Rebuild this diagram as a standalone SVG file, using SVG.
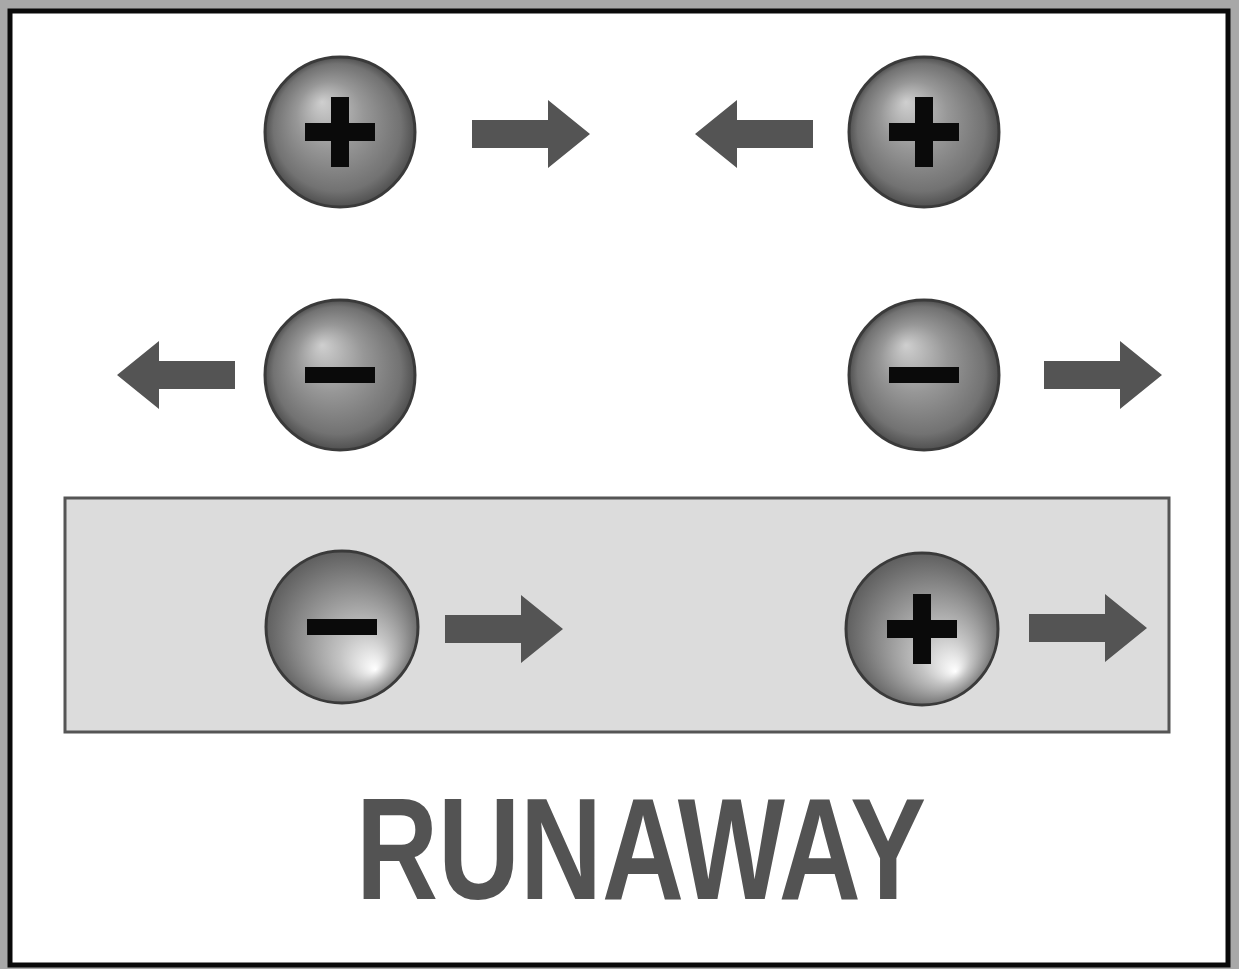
<svg xmlns="http://www.w3.org/2000/svg" width="1239" height="969" viewBox="0 0 1239 969">
<defs>
<radialGradient id="gTop" cx="0.5" cy="0.5" r="0.5" fx="0.38" fy="0.3">
<stop offset="0" stop-color="#cfcfcf"/>
<stop offset="0.45" stop-color="#979797"/>
<stop offset="0.85" stop-color="#727272"/>
<stop offset="1" stop-color="#505050"/>
</radialGradient>
<radialGradient id="gBot" cx="0.5" cy="0.5" r="0.55" fx="0.72" fy="0.78">
<stop offset="0" stop-color="#ffffff"/>
<stop offset="0.3" stop-color="#c4c4c4"/>
<stop offset="0.7" stop-color="#858585"/>
<stop offset="1" stop-color="#555555"/>
</radialGradient>
<path id="arrowR" d="M-118,-14 H-42 V-34 L0,0 L-42,34 V14 H-118 Z"/>
</defs>
<style>
.sphT{fill:url(#gTop);stroke:#3a3a3a;stroke-width:3}
.sphB{fill:url(#gBot);stroke:#3a3a3a;stroke-width:3}
.sign{fill:#0a0a0a}
.arr{fill:#545454}
</style>
<rect x="0" y="0" width="1239" height="969" fill="#a8a8a8"/>
<rect x="10" y="11" width="1218" height="954" fill="#ffffff" stroke="#0a0a0a" stroke-width="5"/>
<g id="panel">
<rect x="65" y="498" width="1104" height="234" fill="#dcdcdc" stroke="#555555" stroke-width="3"/>
</g>
<g id="p1">
<circle class="sphT" cx="340" cy="132" r="75"/>
<rect class="sign" x="305" y="123" width="70" height="18"/>
<rect class="sign" x="331" y="97" width="18" height="70"/>
</g>
<g id="p2">
<circle class="sphT" cx="924" cy="132" r="75"/>
<rect class="sign" x="889" y="123" width="70" height="18"/>
<rect class="sign" x="915" y="97" width="18" height="70"/>
</g>
<g id="p3">
<circle class="sphT" cx="340" cy="375" r="75"/>
<rect class="sign" x="305" y="367" width="70" height="16"/>
</g>
<g id="p4">
<circle class="sphT" cx="924" cy="375" r="75"/>
<rect class="sign" x="889" y="367" width="70" height="16"/>
</g>
<g id="p5">
<circle class="sphB" cx="342" cy="627" r="76"/>
<rect class="sign" x="307" y="619" width="70" height="16"/>
</g>
<g id="p6">
<circle class="sphB" cx="922" cy="629" r="76"/>
<rect class="sign" x="887" y="620" width="70" height="18"/>
<rect class="sign" x="913" y="594" width="18" height="70"/>
</g>
<g id="connectors" class="arr">
<use href="#arrowR" transform="translate(590,134)"/>
<use href="#arrowR" transform="translate(695,134) scale(-1,1)"/>
<use href="#arrowR" transform="translate(117,375) scale(-1,1)"/>
<use href="#arrowR" transform="translate(1162,375)"/>
<use href="#arrowR" transform="translate(563,629)"/>
<use href="#arrowR" transform="translate(1147,628)"/>
</g>
<g id="title">
<text x="356" y="899" font-family="Liberation Sans, Arial, sans-serif" font-weight="bold" font-size="144" fill="#535353" textLength="570" lengthAdjust="spacingAndGlyphs">RUNAWAY</text>
</g>
</svg>
